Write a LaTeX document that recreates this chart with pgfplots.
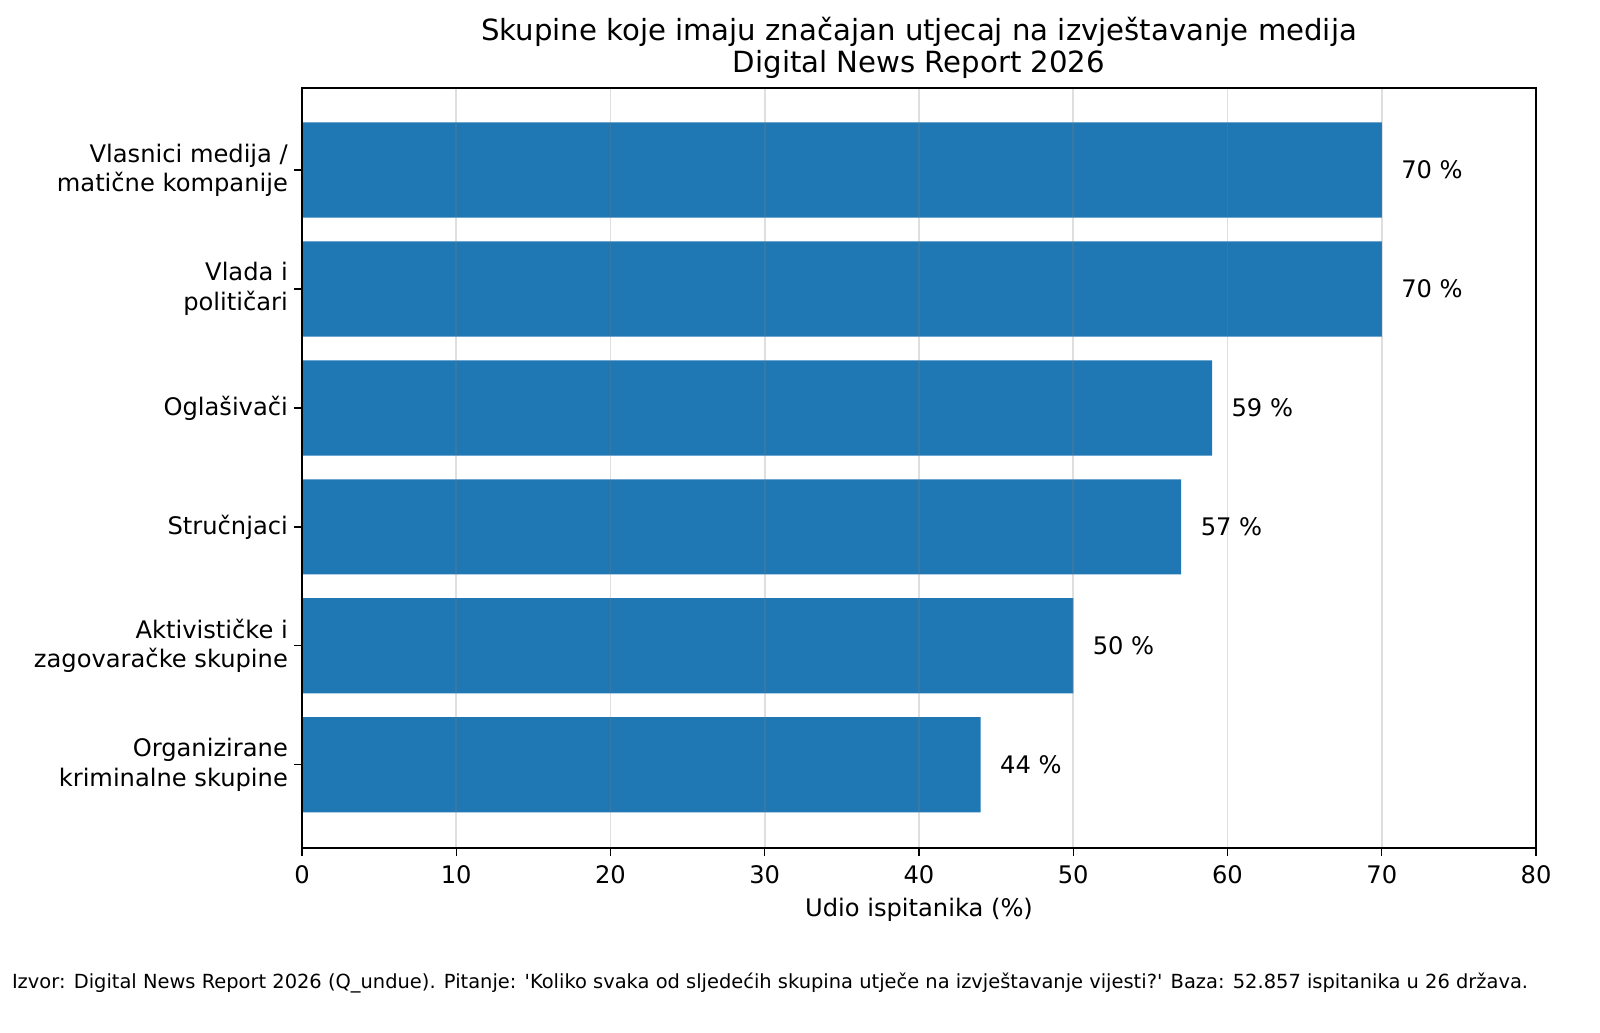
\documentclass[border=0pt]{standalone}
\usepackage{pgfplots}
\pgfplotsset{compat=1.18}
\usepackage{fontspec}
\setmainfont{DejaVu Sans}
\definecolor{barblue}{HTML}{1F77B4}
\begin{document}
\begin{tikzpicture}
\useasboundingbox (0,0) rectangle (576pt,371.88pt);
\begin{axis}[
  at={(108.72pt,66.6pt)}, anchor=south west,
  scale only axis, width=444.24pt, height=273.6pt,
  xbar, bar width=0.8,
  xmin=0, xmax=80, ymin=-0.7, ymax=5.69,
  xtick={0,10,...,80},
  ytick={0,1,2,3,4,5},
  yticklabels={{Organizirane\\kriminalne skupine},{Aktivističke i\\zagovaračke skupine},{Stručnjaci},{Oglašivači},{Vlada i\\političari},{Vlasnici medija /\\matične kompanije}},
  yticklabel style={align=right, font=\fontsize{8.7}{10.6}\selectfont, inner sep=2pt},
  xticklabel style={font=\fontsize{8.7}{10.6}\selectfont},
  /pgf/number format/assume math mode=true,
  tick align=outside, tick pos=left,
  major tick length=2.9pt,
  tick style={black, line width=0.5pt},
  axis line style={black, line width=0.5pt},
  xmajorgrids, ymajorgrids=false,
  major grid style={gray, opacity=0.25, line width=0.6pt},
  axis on top,
  nodes near coords={\pgfmathprintnumber{\pgfplotspointmeta} \%},
  nodes near coords align={horizontal},
  every node near coord/.append style={font=\fontsize{8.7}{10.6}\selectfont, anchor=west, xshift=3.5pt, black},
  point meta=x,
]
\addplot[fill=barblue, draw=none] coordinates {(44,0) (50,1) (57,2) (59,3) (70,4) (70,5)};
\end{axis}
\node[align=center, font=\fontsize{10.5}{11.5}\selectfont] at (330.84pt,354.6pt) {Skupine koje imaju značajan utjecaj na izvještavanje medija\\Digital News Report 2026};
\node[font=\fontsize{8.7}{10.6}\selectfont] at (330.84pt,44.28pt) {Udio ispitanika (\%)};
\node[font=\fontsize{7}{8.4}\selectfont] at (277.2pt,18pt) {Izvor: Digital News Report 2026 (Q\_undue). Pitanje: \textquotesingle Koliko svaka od sljedećih skupina utječe na izvještavanje vijesti?\textquotesingle{} Baza: 52.857 ispitanika u 26 država.};
\end{tikzpicture}
\end{document}
